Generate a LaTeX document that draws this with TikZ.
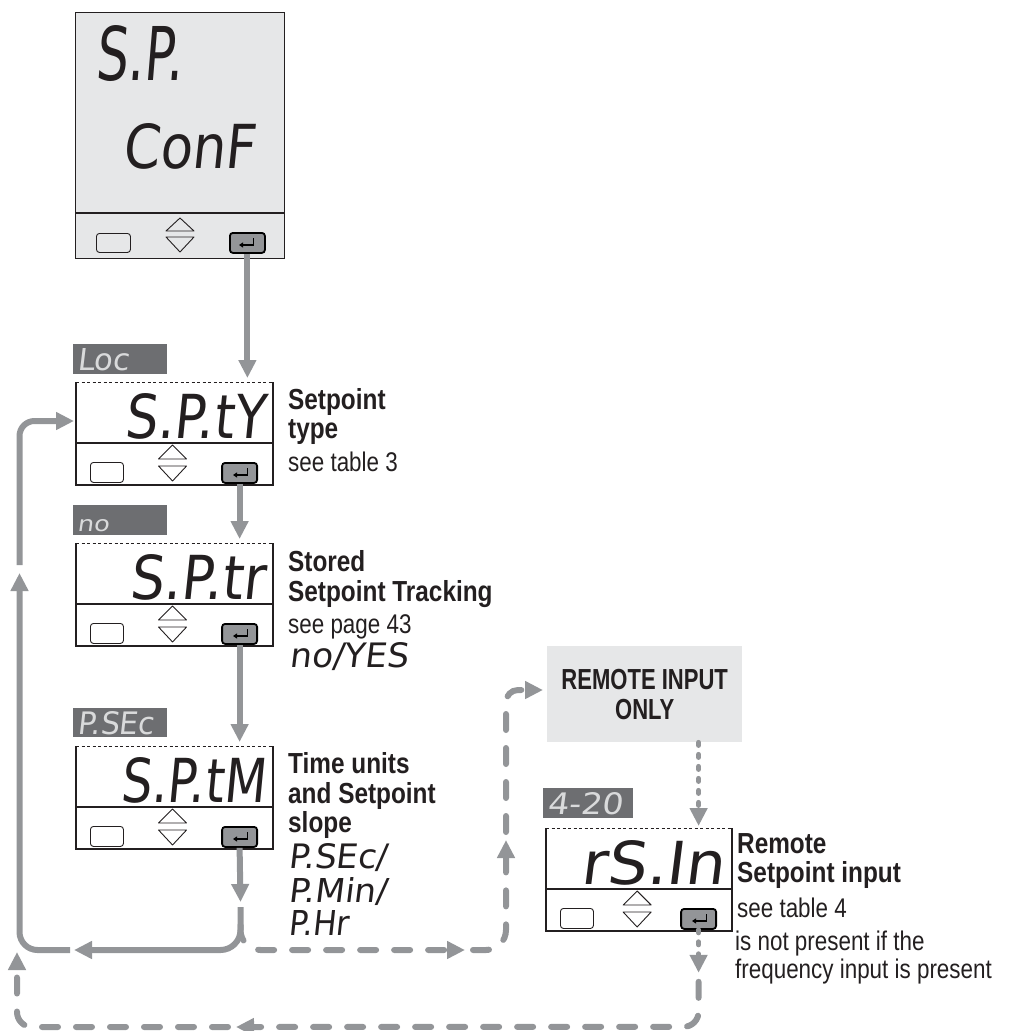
\documentclass[tikz,border=0pt]{standalone}
\usepackage{fontspec}
\usepackage{graphicx}
\usetikzlibrary{arrows.meta,calc}
\setmainfont{Liberation Sans}
\newfontfamily\headfont[FakeStretch=0.84]{Liberation Sans}
\newfontfamily\bodyfont[FakeStretch=0.83]{Liberation Sans}
\newfontfamily\remfont[FakeStretch=0.76]{Liberation Sans}
\newfontfamily\segfont[FakeSlant=0.12]{DejaVu Sans}
\definecolor{cgrey}{HTML}{939598}
\definecolor{lgrey}{HTML}{E6E7E8}
\definecolor{dgrey}{HTML}{6D6E71}
\definecolor{ink}{HTML}{231F20}
\definecolor{labtext}{HTML}{D9DADB}
\tikzset{
 dline/.style={draw=ink, line width=1.1pt},
 tri/.style={draw=ink, line width=0.9pt, line join=round},
 lbtn/.style={draw=ink, line width=0.9pt, fill=white, rounded corners=3pt, minimum width=33pt, minimum height=20pt, inner sep=0pt},
 ebtn/.style={draw=black, line width=1.8pt, fill=cgrey, rounded corners=3pt, minimum width=35pt, minimum height=20pt, inner sep=0pt},
 ico/.style={draw=black, line width=1.4pt, -{Triangle[length=4pt,width=5pt]}},
 lab/.style={fill=dgrey, minimum width=94pt, minimum height=30pt, inner sep=0pt, anchor=north west},
 labtxt/.style={text=labtext, inner sep=0pt, anchor=base west, font=\segfont},
 segtxt/.style={text=ink, inner sep=0pt, font=\segfont},
 head/.style={text=ink, inner sep=0pt, anchor=base west, font=\headfont\bfseries\fontsize{29pt}{30pt}\selectfont},
 body/.style={text=ink, inner sep=0pt, anchor=base west, font=\bodyfont\fontsize{27pt}{30pt}\selectfont},
 conn/.style={draw=cgrey, line width=6pt, -{Triangle[length=18pt,width=17pt]}},
 dconn/.style={conn, line cap=round, dash pattern=on 16pt off 18pt},
 sconn/.style={conn, line width=5pt, line cap=round, dash pattern=on 3pt off 9pt},
}
% #1 name, #2 x, #3 y, #4 width, #5 text, #6 text width, #7 text height
\newcommand\Disp[7]{%
\begin{scope}[shift={(#2,#3)}]
 \node[fill=white, inner sep=0pt, minimum width=#4pt, minimum height=103pt, anchor=north west] (#1) at (0,0) {};
 \draw[dline] (0,0) -- (0,103) -- (#4,103) -- (#4,0);
 \draw[dline, line width=0.9pt, dash pattern=on 3pt off 2.5pt] (0,0) -- (#4,0);
 \draw[dline] (0,61) -- (#4,61);
 \node[lbtn, anchor=north west] (#1-l) at (14,80) {};
 \node[ebtn, anchor=north east] (#1-e) at ({#4-15},80) {};
 \draw[ico] ({#4-25.5},86) -- ({#4-25.5},93) -- ({#4-40},93);
 \draw[tri] ({0.49*#4-14},77) -- ({0.49*#4},63) -- ({0.49*#4+14},77) -- cycle;
 \draw[tri] ({0.49*#4-14},84) -- ({0.49*#4},99) -- ({0.49*#4+14},84) -- cycle;
 \node[segtxt, anchor=base east] (#1-t) at ({#4-8},56) {\resizebox{#6pt}{#7pt}{#5}};
\end{scope}}
\begin{document}
\begin{tikzpicture}[x=1pt,y=-1pt]
\useasboundingbox (0,0) rectangle (1031,1031);

% ---------- top display ----------
\node[fill=lgrey, draw=ink, line width=1.3pt, minimum width=209pt, minimum height=246pt, inner sep=0pt, anchor=north west] (top) at (75,12) {};
\draw[dline] (75,213) -- (284,213);
\node[lbtn, fill=lgrey, minimum width=34pt, minimum height=19pt, anchor=north west] (top-l) at (96,233) {};
\node[ebtn, anchor=north west] (top-e) at (229,232) {};
\draw[ico] (253.5,238) -- (253.5,245) -- (239,245);
\draw[tri] (166,231) -- (180,218) -- (194,231) -- cycle;
\draw[tri] (166,237) -- (180,252) -- (194,237) -- cycle;
\node[segtxt, anchor=base west] (top-t1) at (95,80) {\resizebox{87pt}{55pt}{S.P.}};
\node[segtxt, anchor=base west] (top-t2) at (122,168) {\resizebox{133pt}{45pt}{ConF}};

% ---------- small displays ----------
\node[lab] (lab1) at (73,344) {};
\node[labtxt] (lab1-t) at (77,370) {\resizebox{52pt}{22pt}{Loc}};
\Disp{spty}{76}{382}{197}{S.P.tY}{140}{45}

\node[lab] (lab2) at (73,505) {};
\node[labtxt] (lab2-t) at (77,531) {\resizebox{32pt}{12pt}{no}};
\Disp{sptr}{76}{543}{197}{S.P.tr}{135}{45}

\node[lab, minimum height=29pt] (lab3) at (73,708) {};
\node[labtxt] (lab3-t) at (77,734) {\resizebox{77pt}{23pt}{P.SEc}};
\Disp{sptm}{76}{746}{197}{S.P.tM}{144}{45}

\node[lab, minimum width=90pt] (lab4) at (543,788) {};
\node[labtxt] (lab4-t) at (547,814) {\resizebox{76pt}{22pt}{4-20}};
\Disp{rsin}{546}{828}{186}{rS.In}{143}{44}

% ---------- remote box ----------
\node[fill=lgrey, minimum width=195pt, minimum height=96pt, inner sep=0pt, anchor=north west, align=center, text=ink, font=\remfont\bfseries\fontsize{29pt}{30pt}\selectfont] (remote) at (547,646) {REMOTE INPUT\\ONLY};

% ---------- side texts ----------
\node[head] (t1a) at (288,409) {Setpoint};
\node[head] (t1b) at (288,438) {type};
\node[body] (t1c) at (288,471) {see table 3};

\node[head] (t2a) at (288,571) {Stored};
\node[head] (t2b) at (288,601) {Setpoint Tracking};
\node[body] (t2c) at (288,633) {see page 43};
\node[segtxt, anchor=base west] (t2d) at (289,667) {\resizebox{119pt}{25pt}{no/YES}};

\node[head] (t3a) at (288,773) {Time units};
\node[head] (t3b) at (288,803) {and Setpoint};
\node[head] (t3c) at (288,832) {slope};
\node[segtxt, anchor=base west] (t3d) at (288,868) {\resizebox{99pt}{25pt}{P.SEc/}};
\node[segtxt, anchor=base west] (t3e) at (288,902) {\resizebox{99pt}{25pt}{P.Min/}};
\node[segtxt, anchor=base west] (t3f) at (288,935) {\resizebox{60pt}{25pt}{P.Hr}};

\node[head] (t4a) at (737,853) {Remote};
\node[head] (t4b) at (737,882) {Setpoint input};
\node[body] (t4c) at (737,917) {see table 4};
\node[body] (t4d) at (735,950) {is not present if the};
\node[body] (t4e) at (735,978) {frequency input is present};

% ---------- coordinates ----------
\coordinate (tipD) at (240.5,902);
\coordinate (fork) at (240.5,907);
\coordinate (forkR) at (240.5,925);
\coordinate (tipE) at (74,950);
\coordinate (tailE) at (70,950);
\coordinate (cBL) at (19.5,950);
\coordinate (tipF) at (19.5,573);
\coordinate (tailF) at (19.5,565);
\coordinate (cTL) at (19.5,421);
\coordinate (tipG) at ($(spty.north west)+(-2,39)$);
\coordinate (cFR) at (240.5,950);
\coordinate (tipH1) at (465,950);
\coordinate (tailH1) at (473,950);
\coordinate (cBR) at (506,950);
\coordinate (tipH2) at (506,840);
\coordinate (tailH2) at (506,832);
\coordinate (cTR) at (506,690);
\coordinate (tipH3) at ($(remote.north west)+(-4,44)$);
\coordinate (tipJ) at ($(rsin-e.south)+(0,43)$);
\coordinate (tailJ) at ($(rsin-e.south)+(0,52)$);
\coordinate (cBR2) at ($(rsin-e.south)+(0,97)$);
\coordinate (tipK) at (236,1027);
\coordinate (tailK) at (228,1027);
\coordinate (cBL2) at (17,1027);
\coordinate (tipL) at (17,952);

% ---------- solid connectors ----------
\draw[conn, shorten >=4pt] (top-e.south) -- (top-e.south |- spty.north);
\draw[conn, shorten >=4pt] (spty-e.south) -- (spty-e.south |- sptr.north);
\draw[conn, shorten >=4pt] (sptr-e.south) -- (sptr-e.south |- sptm.north);
\draw[conn] (sptm-e.south) -- (tipD);
\draw[conn, rounded corners=20pt] (fork) -- (cFR) -- (tipE);
\draw[conn, rounded corners=18pt] (tailE) -- (cBL) -- (tipF);
\draw[conn, rounded corners=15pt] (tailF) -- (cTL) -- (tipG);

% ---------- dashed connectors ----------
\draw[dconn, rounded corners=20pt] (forkR) -- (cFR) -- (tipH1);
\draw[dconn, rounded corners=20pt] (tailH1) -- (cBR) -- (tipH2);
\draw[dconn, rounded corners=12pt] (tailH2) -- (cTR) -- (tipH3);
\draw[sconn, shorten >=2pt] (rsin-e |- remote.south) -- (rsin-e |- rsin.north);
\draw[sconn] (rsin-e.south) -- (tipJ);
\draw[dconn, rounded corners=15pt] (tailJ) -- (cBR2) -- (tipK);
\draw[dconn, rounded corners=15pt] (tailK) -- (cBL2) -- (tipL);
\end{tikzpicture}
\end{document}
